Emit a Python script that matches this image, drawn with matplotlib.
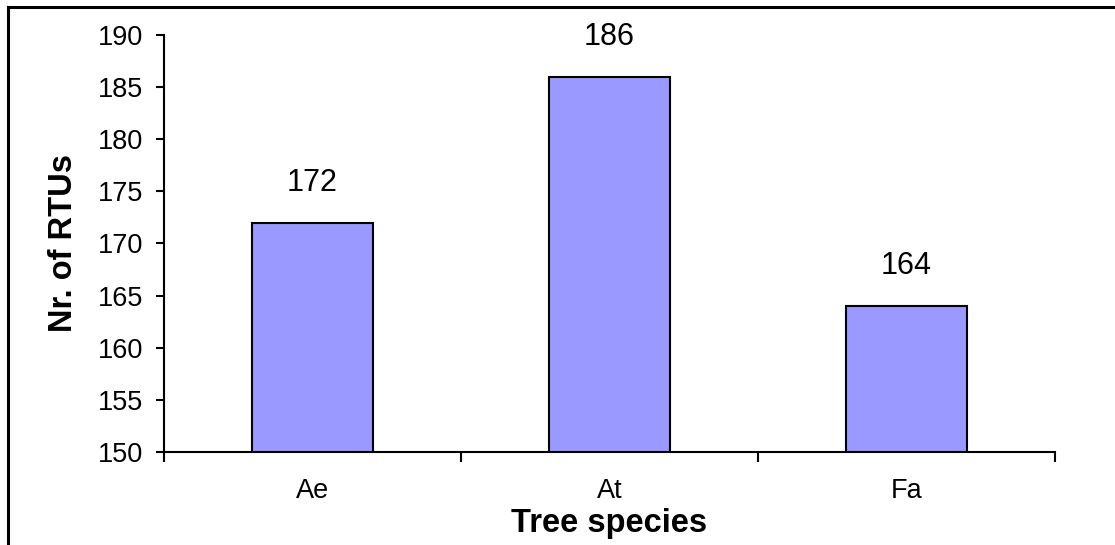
import matplotlib.pyplot as plt
from matplotlib.lines import Line2D

plt.rcParams['font.family'] = ['Liberation Sans', 'DejaVu Sans']

# --- data ---
species = ['Ae', 'At', 'Fa']
rtus = [172, 186, 164]

fig = plt.figure(figsize=(11.15, 5.45), dpi=100)
ax = fig.add_axes([164 / 1115, 1 - 452 / 545, 891 / 1115, 417 / 545])

x = range(len(species))
ax.bar(x, rtus, width=0.41, color='#9999FF', edgecolor='black', linewidth=1.5, zorder=2)

for i, v in enumerate(rtus):
    ax.annotate(str(v), (i, v), xytext=(0, 18), textcoords='offset points',
                ha='center', va='bottom', fontsize=22, annotation_clip=False)

ax.set_xlim(-0.5, 2.5)
ax.set_ylim(150, 190)
ax.set_yticks(range(150, 191, 5))

# category boundaries get the ticks, names sit between them
ax.set_xticks([-0.5, 0.5, 1.5, 2.5])
ax.set_xticklabels([])
ax.set_xticks(list(x), minor=True)
ax.set_xticklabels(species, minor=True)
ax.tick_params(axis='x', which='major', length=7, width=1.5, direction='out')
ax.tick_params(axis='x', which='minor', length=0, pad=19, labelsize=19.5)
ax.tick_params(axis='y', length=6, width=1.5, pad=9, labelsize=19.5)

for side in ['top', 'right']:
    ax.spines[side].set_visible(False)
for side in ['left', 'bottom']:
    ax.spines[side].set_linewidth(1.5)

ax.set_xlabel('Tree species', fontsize=23.5, fontweight='bold')
ax.xaxis.set_label_coords(0.5, -0.172)
ax.xaxis.label.set_va('center')
ax.set_ylabel('Nr. of RTUs', fontsize=23.5, fontweight='bold')
ax.yaxis.set_label_coords(-0.113, 0.5)
ax.yaxis.label.set_va('center')

# outer chart frame (only left and top edges fall inside the image)
bx, by = 8 / 1115, 1 - 7 / 545
fig.add_artist(Line2D([bx, bx], [0, by], color='black', lw=2.2, transform=fig.transFigure))
fig.add_artist(Line2D([bx, 1], [by, by], color='black', lw=2.2, transform=fig.transFigure))

fig.savefig('out.png', dpi=100)
